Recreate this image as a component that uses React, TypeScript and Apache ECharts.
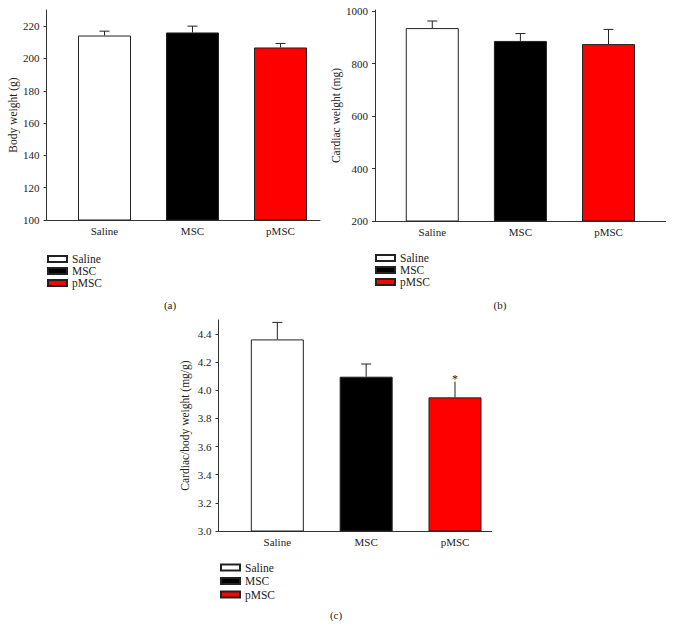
import React, { useEffect, useRef } from "react";
import * as echarts from "echarts";

const categories = ["Saline", "MSC", "pMSC"];
const barColors = ["#ffffff", "#000000", "#ff0000"];

const bodyWeight = [214.2, 216.1, 206.8];
const bodyWeightErr = [2.7, 3.9, 2.5];
const cardiacWeight = [936, 887, 875];
const cardiacWeightErr = [27, 28, 56];
const ratio = [4.362, 4.097, 3.95];
const ratioErr = [0.121, 0.09, 0.112];
const ratioSig = ["", "", "*"];
const noSig = ["", "", ""];

const bodyTicks = [100, 120, 140, 160, 180, 200, 220];
const cardiacTicks = [200, 400, 600, 800, 1000];
const ratioTicks = [3.0, 3.2, 3.4, 3.6, 3.8, 4.0, 4.2, 4.4];

const yTitles = ["Body weight (g)", "Cardiac weight (mg)", "Cardiac/body weight (mg/g)"];
const panelLabels = ["(a)", "(b)", "(c)"];

const FONT = "'Liberation Serif', 'DejaVu Serif', serif";
const INK = "#222";
const AXIS = "#333";

export default function App() {
  const ref = useRef<HTMLDivElement>(null);
  useEffect(() => {
    if (!ref.current) return;
    const chart = echarts.init(ref.current, undefined, { renderer: "svg" });

    const panels = [
      {
        grid: { left: 46.5, top: 10, width: 273.5, height: 210 },
        xMin: -0.659, xMax: 2.449,
        yMin: 100, yMax: 230, ticks: bodyTicks, fmt: (v: number) => String(v),
        means: bodyWeight, errs: bodyWeightErr, sig: noSig,
        nameGap: 28, legendLeft: 47, legendTop: 253, legendGap: 0,
        label: { x: 170, y: 305 },
      },
      {
        grid: { left: 375, top: 10, width: 290.7, height: 211 },
        xMin: -0.65, xMax: 2.649,
        yMin: 200, yMax: 1005, ticks: cardiacTicks, fmt: (v: number) => String(v),
        means: cardiacWeight, errs: cardiacWeightErr, sig: noSig,
        nameGap: 31, legendLeft: 375, legendTop: 252, legendGap: 0,
        label: { x: 500, y: 305 },
      },
      {
        grid: { left: 218.5, top: 320, width: 273.2, height: 211 },
        xMin: -0.662, xMax: 2.413,
        yMin: 3.0, yMax: 4.5, ticks: ratioTicks, fmt: (v: number) => v.toFixed(1),
        means: ratio, errs: ratioErr, sig: ratioSig,
        nameGap: 28, legendLeft: 220, legendTop: 561.5, legendGap: 1.5,
        label: { x: 336, y: 615 },
      },
    ];

    const series: any[] = [];
    panels.forEach((p, pi) => {
      categories.forEach((c, i) => {
        series.push({
          type: "bar",
          name: c,
          xAxisIndex: pi,
          yAxisIndex: pi,
          data: [[i, p.means[i]]],
          barWidth: 53,
          barGap: "-100%",
          itemStyle: { color: barColors[i], borderColor: INK, borderWidth: 1 },
          emphasis: { disabled: true },
        });
      });
      const sigArr = p.sig;
      series.push({
        type: "custom",
        xAxisIndex: pi,
        yAxisIndex: pi,
        z: 5,
        encode: { x: 0, y: [1, 2] },
        data: p.means.map((m, i) => [i, m, m + p.errs[i]]),
        renderItem: (params: any, api: any) => {
          const x = api.value(0);
          const m = api.value(1);
          const t = api.value(2);
          const p0 = api.coord([x, m]);
          const p1 = api.coord([x, t]);
          const half = 5;
          const children: any[] = [
            { type: "line", shape: { x1: p0[0], y1: p0[1], x2: p1[0], y2: p1[1] }, style: { stroke: INK, lineWidth: 1 } },
          ];
          const s = sigArr[params.dataIndex];
          if (s) {
            children.push({
              type: "text",
              style: { text: s, x: p1[0], y: p1[1] + 3, textAlign: "center", textVerticalAlign: "bottom", fontSize: 12, fontFamily: FONT, fill: INK },
            });
          } else {
            children.push({ type: "line", shape: { x1: p1[0] - half, y1: p1[1], x2: p1[0] + half, y2: p1[1] }, style: { stroke: INK, lineWidth: 1 } });
          }
          return { type: "group", children };
        },
      });
    });

    const option: any = {
      animation: false,
      backgroundColor: "#ffffff",
      grid: panels.map((p) => ({ ...p.grid, containLabel: false })),
      xAxis: panels.map((p, pi) => ({
        type: "value",
        gridIndex: pi,
        position: "bottom",
        min: p.xMin,
        max: p.xMax,
        axisLine: { show: true, onZero: false, lineStyle: { color: AXIS, width: 1 } },
        axisTick: { show: false },
        splitLine: { show: false },
        axisLabel: {
          customValues: [0, 1, 2],
          formatter: (v: number) => categories[Math.round(v)] ?? "",
          fontFamily: FONT,
          fontSize: 11,
          color: INK,
          margin: 5,
        },
      })),
      yAxis: panels.map((p, pi) => ({
        type: "value",
        gridIndex: pi,
        position: "left",
        min: p.yMin,
        max: p.yMax,
        name: yTitles[pi],
        nameLocation: "middle",
        nameGap: p.nameGap,
        nameTextStyle: { fontFamily: FONT, fontSize: 11.5, color: INK },
        axisLine: { show: true, onZero: false, lineStyle: { color: AXIS, width: 1 } },
        axisTick: { show: true, length: 3, customValues: p.ticks, lineStyle: { color: AXIS } },
        splitLine: { show: false },
        axisLabel: {
          customValues: p.ticks,
          formatter: p.fmt,
          fontFamily: FONT,
          fontSize: 11,
          color: INK,
          margin: 7,
        },
      })),
      legend: panels.map((p) => ({
        data: categories,
        orient: "vertical",
        left: p.legendLeft,
        top: p.legendTop,
        icon: "rect",
        itemWidth: 19,
        itemHeight: 6,
        itemGap: p.legendGap,
        padding: 0,
        selectedMode: false,
        textStyle: { fontFamily: FONT, fontSize: 11.5, color: INK, lineHeight: 12 },
      })),
      graphic: panels.map((p, pi) => ({
        type: "text",
        x: p.label.x,
        y: p.label.y,
        style: { text: panelLabels[pi], textAlign: "center", textVerticalAlign: "middle", fontFamily: FONT, fontSize: 11, fill: INK },
      })),
      series,
    };

    chart.setOption(option);
    return () => chart.dispose();
  }, []);

  return (
    <div
      ref={ref}
      style={{ position: "absolute", left: 0, top: 0, width: 673, height: 628, background: "#fff" }}
    />
  );
}
